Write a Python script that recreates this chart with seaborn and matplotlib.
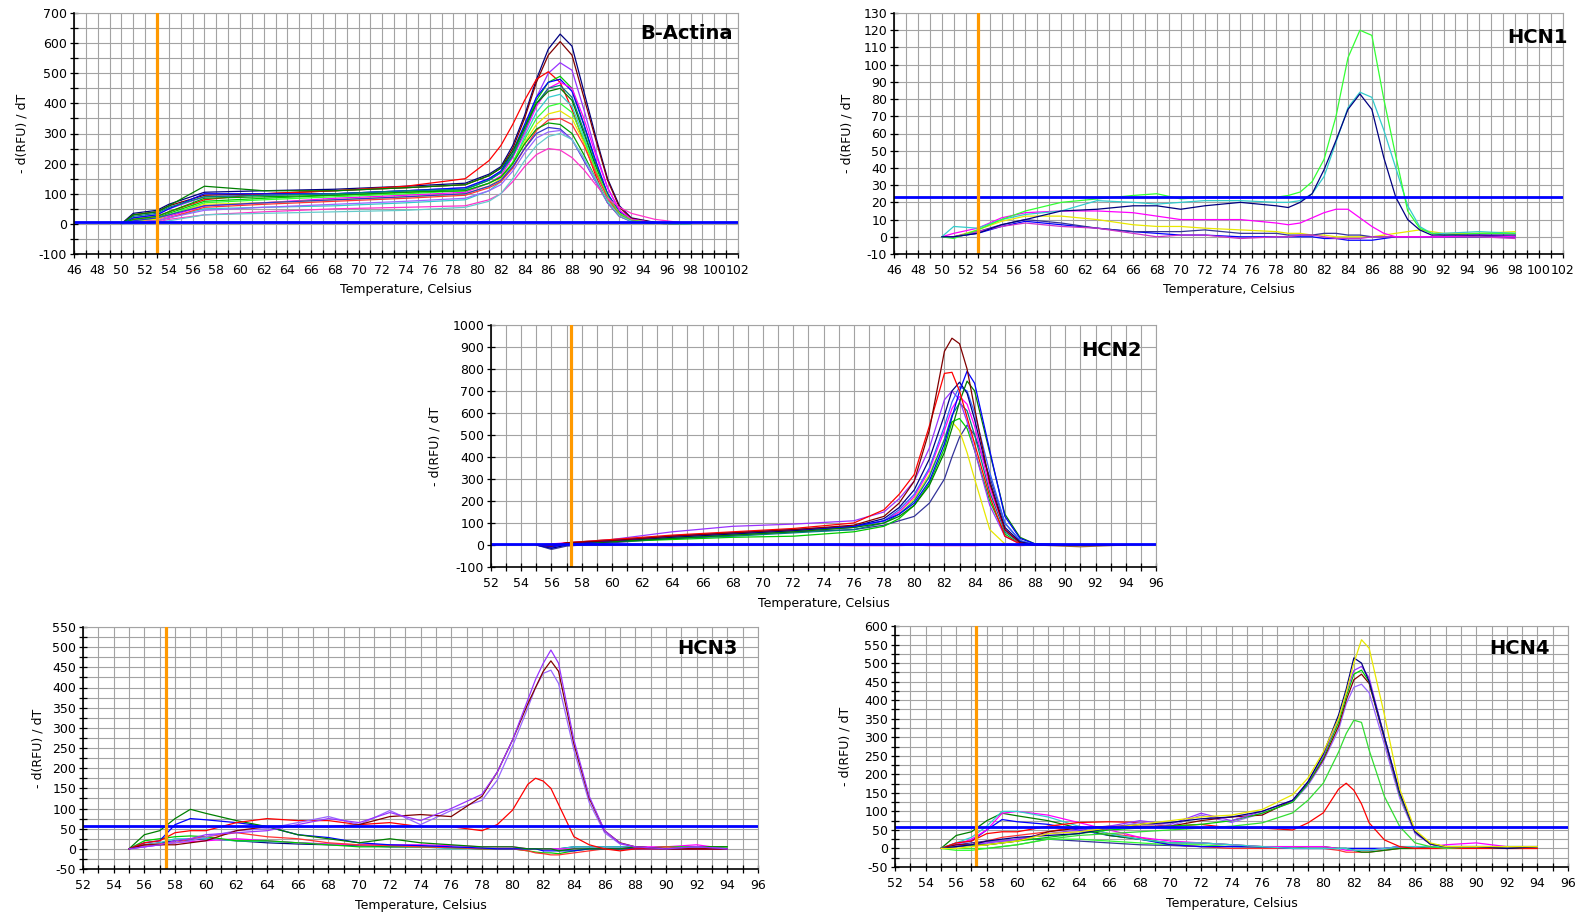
import numpy as np
import pandas as pd
import matplotlib
matplotlib.use("Agg")
import matplotlib.pyplot as plt
import seaborn as sns
from matplotlib.ticker import MultipleLocator

# ------------------------------------------------------------------ data
# ---- B-Actina
T_ACT = [50, 51, 53, 54, 57, 62, 68, 74, 79, 81, 82, 83, 84, 85, 86, 87, 88, 89, 90, 91, 92, 93, 95, 98]
ACT_navy = [0, 35, 45, 65, 105, 110, 115, 125, 135, 165, 190, 260, 360, 480, 580, 630, 590, 440, 290, 150, 60, 20, 5, 0]
ACT_darkred = [0, 30, 40, 60, 95, 100, 110, 120, 130, 160, 185, 250, 350, 470, 560, 605, 560, 420, 280, 145, 55, 18, 4, 0]
ACT_purple = [0, 20, 30, 50, 90, 95, 100, 110, 120, 150, 175, 230, 320, 420, 500, 535, 510, 380, 240, 120, 45, 15, 3, 0]
ACT_red = [0, 15, 25, 40, 80, 100, 110, 125, 150, 210, 260, 330, 410, 480, 505, 470, 380, 270, 160, 70, 25, 10, 2, 0]
ACT_green = [0, 10, 20, 35, 75, 85, 95, 105, 115, 145, 170, 230, 320, 410, 470, 490, 450, 330, 200, 100, 40, 12, 3, 0]
ACT_blue = [0, 20, 30, 50, 100, 100, 100, 110, 120, 150, 175, 240, 330, 420, 470, 480, 440, 330, 210, 100, 40, 12, 3, 0]
ACT_magenta = [0, 5, 15, 25, 60, 70, 85, 95, 105, 135, 160, 220, 300, 390, 450, 470, 450, 350, 230, 120, 45, 15, 3, 0]
ACT_teal = [0, 25, 35, 55, 90, 95, 100, 110, 115, 145, 170, 225, 310, 400, 450, 460, 420, 310, 190, 95, 35, 10, 2, 0]
ACT_darkgreen = [0, 30, 40, 60, 125, 110, 110, 120, 130, 160, 185, 240, 320, 400, 440, 450, 410, 300, 190, 90, 35, 10, 2, 0]
ACT_cyan = [0, 5, 10, 20, 50, 55, 60, 70, 80, 110, 140, 200, 290, 370, 420, 430, 390, 290, 180, 90, 35, 10, 2, 0]
ACT_yellow = [0, 10, 15, 30, 65, 70, 80, 90, 100, 125, 150, 200, 270, 330, 365, 375, 350, 270, 180, 90, 35, 12, 3, 0]
ACT_lime = [0, 10, 20, 30, 70, 80, 90, 100, 110, 135, 155, 205, 280, 350, 390, 400, 370, 280, 180, 90, 35, 12, 3, 0]
ACT_red2 = [0, 5, 10, 20, 55, 65, 75, 85, 95, 120, 140, 185, 250, 310, 345, 350, 330, 260, 170, 85, 30, 10, 2, 0]
ACT_blue2 = [0, 10, 20, 30, 60, 70, 80, 90, 100, 125, 145, 190, 250, 300, 320, 315, 280, 210, 140, 70, 25, 8, 2, 0]
ACT_violet = [0, 5, 10, 20, 45, 55, 65, 75, 85, 110, 130, 175, 235, 285, 305, 310, 280, 215, 140, 70, 25, 8, 2, 0]
ACT_pink = [0, 0, 5, 15, 30, 40, 50, 55, 60, 80, 100, 140, 190, 230, 250, 245, 220, 180, 130, 85, 55, 35, 15, 0]
ACT_green3 = [0, 15, 25, 40, 85, 90, 95, 105, 110, 135, 155, 200, 265, 315, 335, 330, 300, 230, 150, 75, 28, 9, 2, 0]
ACT_cyan2 = [0, 0, 5, 10, 30, 35, 40, 45, 55, 75, 100, 150, 210, 260, 290, 300, 280, 220, 150, 75, 28, 9, 2, 0]

# ---- HCN1
T_HCN1 = [50, 51, 53, 55, 57, 60, 63, 66, 68, 70, 72, 75, 78, 79, 80, 81, 82, 83, 84, 85, 86, 87, 88, 89, 90, 91, 92, 95, 98]
H1_green = [0, -1, 4, 10, 15, 20, 22, 24, 25, 22, 23, 23, 23, 24, 26, 32, 45, 70, 104, 120, 117, 80, 47, 15, 5, 2, 1, 2, 2]
H1_cyan = [0, 6, 5, 10, 13, 15, 21, 20, 19, 20, 21, 21, 20, 20, 21, 25, 35, 55, 75, 84, 81, 62, 40, 18, 6, 2, 2, 3, 2]
H1_navy = [0, 0, 2, 7, 10, 15, 16, 18, 18, 16, 18, 20, 18, 17, 20, 25, 39, 56, 74, 83, 74, 46, 23, 10, 4, 1, 1, 1, 1]
H1_magenta = [0, 2, 5, 11, 14, 15, 15, 14, 12, 10, 10, 10, 8, 7, 8, 11, 14, 16, 16, 11, 6, 2, 0, 0, 0, 0, 0, 1, 0]
H1_yellow = [0, 0, 4, 9, 12, 12, 10, 7, 6, 6, 5, 4, 3, 2, 2, 1, 1, 0, 0, 0, 0, 1, 2, 3, 4, 3, 2, 2, 3]
H1_blue = [0, 0, 2, 6, 9, 7, 5, 3, 2, 1, 1, 0, 0, 0, 0, 0, -1, -1, -2, -2, -2, -1, 0, 0, 0, 0, 0, 0, 0]
H1_slate = [0, 0, 3, 7, 10, 8, 5, 3, 3, 3, 4, 2, 2, 1, 1, 1, 2, 2, 1, 1, 0, 0, 0, 0, 0, 0, 0, 0, 0]
H1_orchid = [0, 0, 3, 6, 8, 6, 5, 2, 0, 1, 1, -1, 0, 0, 1, 1, 0, -1, -1, -1, 0, 0, 0, 0, 0, 0, 0, 0, -1]

# ---- HCN2
T_HCN2 = [55, 56, 57, 60, 64, 68, 72, 76, 78, 79, 80, 81, 82, 82.5, 83, 83.5, 84, 85, 86, 87, 88, 91, 94]
H2_darkred = [0, -5, 10, 20, 40, 55, 70, 90, 130, 190, 290, 520, 880, 940, 915, 800, 620, 280, 70, 10, 0, 0, 0]
H2_red = [0, 0, 10, 25, 45, 60, 75, 100, 160, 230, 320, 540, 780, 785, 700, 580, 460, 220, 40, 5, 0, 0, 0]
H2_blue = [0, -10, 5, 20, 40, 55, 70, 85, 110, 140, 190, 290, 460, 580, 700, 790, 735, 430, 130, 30, 5, 0, 0]
H2_darkgreen = [0, -5, 5, 15, 30, 45, 60, 80, 100, 130, 180, 270, 420, 530, 650, 745, 700, 420, 140, 35, 5, 0, 0]
H2_navy = [0, -15, 0, 15, 35, 50, 65, 85, 120, 170, 250, 390, 590, 700, 740, 690, 570, 290, 80, 15, 0, 0, 0]
H2_purple = [0, -10, 10, 25, 60, 85, 95, 110, 150, 210, 290, 440, 660, 700, 660, 560, 430, 180, 40, 5, 0, 0, 0]
H2_magenta = [0, 5, 10, 20, 40, 55, 65, 80, 110, 150, 220, 340, 520, 620, 675, 640, 540, 260, 70, 10, 0, 0, 0]
H2_teal = [0, -5, 5, 15, 30, 40, 55, 70, 100, 140, 200, 310, 480, 590, 645, 610, 500, 240, 60, 10, 0, 0, 0]
H2_green = [0, -5, 5, 15, 25, 35, 40, 60, 85, 120, 180, 280, 440, 560, 575, 530, 430, 200, 50, 5, 0, 0, 0]
H2_yellow = [0, -5, 10, 25, 40, 55, 65, 80, 110, 150, 210, 320, 480, 560, 520, 420, 300, 70, 5, 0, 0, 0, 0]
H2_slate = [0, -20, -5, 10, 30, 45, 60, 70, 90, 110, 130, 190, 300, 400, 490, 545, 500, 310, 100, 20, 0, 0, 0]
H2_royal = [0, -15, 0, 15, 35, 50, 65, 80, 110, 160, 230, 350, 540, 650, 720, 700, 600, 330, 100, 20, 0, 0, 0]
H2_pink = [0, 0, 5, 0, -3, 0, 0, -3, -3, -3, 0, -3, -3, -3, -3, -3, -3, 0, 0, -3, 0, 0, 0]
H2_brown = [0, 0, 0, 0, 0, 0, 0, 0, 0, 0, 0, 0, 0, 0, 0, 0, 0, 0, 0, 0, 0, -8, 0]

# ---- HCN3
T_HCN3 = [55, 56, 57, 58, 59, 60, 62, 64, 66, 68, 70, 72, 74, 76, 78, 79, 80, 81, 81.5, 82, 82.5, 83, 84, 85, 86, 87, 88, 90, 92, 94]
H3_purple = [0, 5, 10, 20, 25, 35, 40, 45, 60, 75, 65, 90, 70, 100, 135, 190, 270, 370, 420, 460, 493, 460, 270, 130, 45, 14, 5, 0, 5, 0]
H3_darkred = [0, 10, 10, 10, 15, 20, 45, 55, 55, 55, 60, 80, 85, 80, 130, 190, 270, 360, 400, 440, 466, 440, 260, 125, 45, 15, 5, 0, 0, 0]
H3_violet = [0, 5, 10, 15, 20, 30, 45, 50, 65, 80, 60, 95, 60, 95, 120, 170, 255, 350, 400, 435, 443, 410, 245, 115, 40, 12, 5, 0, 5, 0]
H3_red = [0, 15, 20, 40, 45, 45, 65, 75, 70, 70, 60, 65, 55, 55, 45, 60, 96, 160, 175, 168, 150, 110, 30, 10, 0, -5, 0, 0, 0, 0]
H3_darkgreen = [0, 35, 45, 75, 98, 88, 70, 55, 35, 25, 15, 25, 15, 10, 5, 5, 5, 0, 0, 0, 0, -5, 0, 0, 0, 0, 5, 0, 5, 5]
H3_blue = [0, 15, 20, 60, 75, 72, 65, 55, 35, 28, 15, 10, 8, 5, 2, 0, 0, 0, 0, -5, -5, -5, -5, 0, 0, 0, 0, 0, 0, 0]
H3_red2 = [0, 10, 12, 15, 25, 30, 40, 30, 25, 15, 10, 8, 5, 3, 0, 0, 0, -5, -10, -12, -15, -15, -10, -5, 0, 0, 0, 5, 0, 0]
H3_green = [0, 20, 25, 30, 32, 30, 20, 20, 15, 10, 5, 5, 5, 3, 0, 0, 0, -5, -8, -10, -10, -12, -5, 0, 0, 0, 0, 5, 5, 5]
H3_magenta = [0, 5, 10, 15, 18, 20, 25, 20, 15, 12, 10, 10, 10, 8, 5, 5, 5, 0, 0, 0, 0, 0, 0, 0, 0, 0, 5, 5, 10, 0]
H3_cyan = [0, 10, 15, 25, 25, 25, 20, 18, 15, 12, 10, 8, 5, 0, 0, 0, 0, 0, 0, 0, 0, 0, 5, 5, 5, 5, 5, 0, 5, 0]
H3_navy = [0, 10, 15, 20, 22, 25, 20, 15, 12, 10, 8, 5, 5, 3, 0, 0, 0, 0, 0, 0, 0, 0, 5, 5, 5, 5, 5, 0, 0, 0]

# ---- HCN4
T_HCN4 = [55, 56, 57, 58, 59, 60, 62, 64, 66, 68, 70, 72, 74, 76, 78, 79, 80, 81, 81.5, 82, 82.5, 83, 84, 85, 86, 87, 88, 90, 92, 94]
H4_yellow = [0, 0, 5, 10, 15, 20, 40, 45, 55, 65, 75, 85, 90, 105, 145, 190, 260, 350, 420, 500, 563, 540, 360, 160, 50, 15, 5, 5, 5, 5]
H4_navy = [0, 5, 10, 20, 25, 30, 35, 40, 55, 65, 70, 80, 85, 100, 130, 180, 255, 360, 430, 514, 500, 450, 300, 150, 45, 12, 5, 5, 0, 5]
H4_purple = [0, 5, 10, 15, 20, 25, 40, 50, 60, 75, 65, 95, 75, 100, 130, 180, 250, 350, 420, 480, 491, 460, 300, 150, 45, 12, 5, 5, 5, 5]
H4_green = [0, 5, 8, 10, 15, 20, 30, 40, 50, 55, 60, 65, 75, 95, 125, 175, 245, 340, 410, 470, 481, 450, 300, 145, 45, 12, 5, 5, 5, 5]
H4_darkred = [0, 10, 10, 10, 15, 20, 45, 55, 60, 60, 60, 75, 85, 90, 130, 175, 240, 330, 400, 455, 470, 445, 295, 145, 45, 12, 5, 5, 0, 5]
H4_violet = [0, 5, 10, 15, 20, 25, 40, 45, 55, 70, 60, 90, 70, 95, 125, 170, 235, 320, 390, 435, 443, 420, 280, 135, 40, 12, 5, 5, 5, 5]
H4_green2 = [0, 0, 0, 0, 5, 10, 25, 35, 40, 45, 50, 55, 60, 69, 96, 130, 176, 260, 310, 346, 340, 265, 140, 59, 15, 5, 0, 5, 0, 5]
H4_red = [0, 15, 20, 40, 45, 45, 60, 70, 72, 70, 60, 65, 55, 55, 50, 69, 96, 160, 176, 157, 120, 69, 23, 5, 0, 0, 0, 0, 0, 0]
H4_cyan = [0, 15, 30, 60, 100, 100, 85, 60, 40, 25, 15, 15, 10, 5, 0, 0, 0, 0, 0, -5, -5, -5, 0, 5, 5, 5, 5, 5, 5, 5]
H4_magenta = [0, 10, 25, 50, 95, 100, 90, 70, 50, 30, 20, 15, 10, 5, 5, 5, 5, 0, -5, -5, -5, -5, 0, 5, 5, 5, 10, 15, 5, 5]
H4_darkgreen = [0, 35, 45, 75, 95, 88, 75, 55, 35, 25, 15, 15, 10, 5, 5, 5, 5, 0, 0, -5, -10, -10, -5, 0, 0, 5, 5, 5, 5, 5]
H4_blue = [0, 15, 20, 50, 78, 72, 65, 50, 35, 25, 10, 5, 5, 5, 0, 0, 0, 0, 0, 0, 0, 0, 0, 5, 5, 5, 5, 5, 5, 5]
H4_red2 = [0, 5, 10, 20, 30, 35, 45, 60, 40, 30, 10, 5, 0, 0, 0, 0, 0, -5, -10, -10, -10, -10, -5, 0, 0, 0, 0, 5, 0, 0]
H4_lime = [0, -5, -5, 0, 5, 10, 25, 25, 20, 15, 10, 10, 5, 5, 5, 0, 0, 0, 0, -5, -5, -5, 0, 0, 0, 0, 5, 5, 5, 5]
H4_slate = [0, 10, 15, 20, 20, 25, 25, 20, 15, 10, 8, 5, 5, 3, 0, 0, 0, 0, 0, 0, 0, 0, 0, 5, 5, 5, 5, 5, 5, 5]

# threshold / reference lines
THRESH = {"B-Actina": 5, "HCN1": 23, "HCN2": 3, "HCN3": 57, "HCN4": 57}
REF_T = {"B-Actina": 53, "HCN1": 53, "HCN2": 57.3, "HCN3": 57.4, "HCN4": 57.3}

# ------------------------------------------------------------------ styles
COL = {
    "navy": "#000080", "darkred": "#800000", "purple": "#9933ff", "red": "#ff0000",
    "green": "#00cc00", "blue": "#0000ff", "magenta": "#ff00ff", "teal": "#008080",
    "darkgreen": "#008000", "cyan": "#33cccc", "yellow": "#e8e800", "lime": "#33ff33",
    "red2": "#ff3333", "blue2": "#3333cc", "violet": "#9966ff", "pink": "#ff33cc",
    "green3": "#00a000", "cyan2": "#66cccc", "slate": "#333399", "orchid": "#cc33cc",
    "royal": "#3366ff", "brown": "#996633", "green2": "#33dd33",
}

ACT_CURVES = [("navy", ACT_navy), ("darkred", ACT_darkred), ("purple", ACT_purple), ("red", ACT_red),
              ("green", ACT_green), ("blue", ACT_blue), ("magenta", ACT_magenta), ("teal", ACT_teal),
              ("darkgreen", ACT_darkgreen), ("cyan", ACT_cyan), ("yellow", ACT_yellow), ("lime", ACT_lime),
              ("red2", ACT_red2), ("blue2", ACT_blue2), ("violet", ACT_violet), ("pink", ACT_pink),
              ("green3", ACT_green3), ("cyan2", ACT_cyan2)]
H1_CURVES = [("yellow", H1_yellow), ("blue", H1_blue), ("slate", H1_slate), ("orchid", H1_orchid),
             ("magenta", H1_magenta), ("cyan", H1_cyan), ("lime", H1_green), ("navy", H1_navy)]
H2_CURVES = [("pink", H2_pink), ("brown", H2_brown), ("slate", H2_slate), ("yellow", H2_yellow),
             ("green", H2_green), ("teal", H2_teal), ("magenta", H2_magenta), ("purple", H2_purple),
             ("royal", H2_royal), ("navy", H2_navy), ("darkgreen", H2_darkgreen), ("blue", H2_blue),
             ("red", H2_red), ("darkred", H2_darkred)]
H3_CURVES = [("navy", H3_navy), ("cyan", H3_cyan), ("magenta", H3_magenta), ("green", H3_green),
             ("red2", H3_red2), ("blue", H3_blue), ("darkgreen", H3_darkgreen), ("red", H3_red),
             ("violet", H3_violet), ("darkred", H3_darkred), ("purple", H3_purple)]
H4_CURVES = [("slate", H4_slate), ("lime", H4_lime), ("red2", H4_red2), ("blue", H4_blue),
             ("darkgreen", H4_darkgreen), ("magenta", H4_magenta), ("cyan", H4_cyan), ("red", H4_red),
             ("green2", H4_green2), ("violet", H4_violet), ("darkred", H4_darkred), ("green", H4_green),
             ("purple", H4_purple), ("navy", H4_navy), ("yellow", H4_yellow)]

sns.set_theme(style="white")
plt.rcParams["font.family"] = ["DejaVu Sans"]
plt.rcParams["axes.unicode_minus"] = False

FIG_W, FIG_H = 1585, 915
fig = plt.figure(figsize=(FIG_W / 100, FIG_H / 100), dpi=100)
fig.patch.set_facecolor("white")

# pixel rectangles (x0, y0, x1, y1) of each plotting area
PANELS = [
    dict(name="B-Actina", rect=(74, 13, 738, 254), T=T_ACT, curves=ACT_CURVES, xlim=(46, 102),
         ylim=(-100, 700), ymaj=100, ymin=50, ylab_dx=52, toff=(-5, -11)),
    dict(name="HCN1", rect=(894, 13, 1563, 254), T=T_HCN1, curves=H1_CURVES, xlim=(46, 102),
         ylim=(-10, 130), ymaj=10, ymin=10, ylab_dx=47, toff=(5, -15)),
    dict(name="HCN2", rect=(491, 325, 1156, 567), T=T_HCN2, curves=H2_CURVES, xlim=(52, 96),
         ylim=(-100, 1000), ymaj=100, ymin=100, ylab_dx=56, toff=(-14, -16)),
    dict(name="HCN3", rect=(83, 627, 758, 869), T=T_HCN3, curves=H3_CURVES, xlim=(52, 96),
         ylim=(-50, 550), ymaj=50, ymin=25, ylab_dx=45, toff=(-20, -12)),
    dict(name="HCN4", rect=(895, 626, 1568, 867), T=T_HCN4, curves=H4_CURVES, xlim=(52, 96),
         ylim=(-50, 600), ymaj=50, ymin=25, ylab_dx=50, toff=(-18, -13)),
]

GRID_C = "#a3a3a3"
PX2PT = 0.72

for p in PANELS:
    x0, y0, x1, y1 = p["rect"]
    w, h = x1 - x0, y1 - y0
    ax = fig.add_axes([x0 / FIG_W, 1 - y1 / FIG_H, w / FIG_W, h / FIG_H])
    ax.set_facecolor("white")

    rows = []
    for i, (cname, vals) in enumerate(p["curves"]):
        for t, v in zip(p["T"], vals):
            rows.append((t, v, f"{i:02d}_{cname}"))
    df = pd.DataFrame(rows, columns=["T", "v", "curve"])
    pal = {f"{i:02d}_{c}": COL[c] for i, (c, _) in enumerate(p["curves"])}
    sns.lineplot(data=df, x="T", y="v", hue="curve", palette=pal, estimator=None,
                 sort=False, legend=False, linewidth=0.9, ax=ax, zorder=3)

    ax.axhline(THRESH[p["name"]], color="#0000ff", lw=2.0, zorder=5)
    ax.axvline(REF_T[p["name"]], color="#ff9900", lw=2.3, zorder=6)

    ax.set_xlim(*p["xlim"])
    ax.set_ylim(*p["ylim"])
    ax.xaxis.set_major_locator(MultipleLocator(2))
    ax.xaxis.set_minor_locator(MultipleLocator(1))
    ax.yaxis.set_major_locator(MultipleLocator(p["ymaj"]))
    ax.yaxis.set_minor_locator(MultipleLocator(p["ymin"]))
    ax.grid(True, which="both", color=GRID_C, lw=0.8)
    ax.set_axisbelow(True)
    ax.tick_params(which="both", direction="inout", length=6, width=0.9, color="black",
                   labelsize=9, labelcolor="black", bottom=True, left=True)
    ax.tick_params(axis="x", which="both", pad=4)
    ax.tick_params(axis="y", which="both", pad=2)
    for s in ("left", "bottom"):
        ax.spines[s].set_color("black")
        ax.spines[s].set_linewidth(1.2)
        ax.spines[s].set_zorder(7)
    for s in ("top", "right"):
        ax.spines[s].set_color(GRID_C)
        ax.spines[s].set_linewidth(0.8)

    ax.set_xlabel("Temperature, Celsius", fontsize=9, color="black")
    ax.xaxis.set_label_coords(0.5, -36 / h)
    ax.xaxis.label.set_verticalalignment("center")
    ax.set_ylabel("- d(RFU) / dT", fontsize=9, color="black")
    ax.yaxis.set_label_coords(-p["ylab_dx"] / w, 0.5)
    ax.yaxis.label.set_verticalalignment("center")

    dx, dy = p["toff"]
    ax.annotate(p["name"], xy=(1, 1), xycoords="axes fraction",
                xytext=(dx * PX2PT, dy * PX2PT), textcoords="offset points",
                ha="right", va="top", fontsize=14, fontweight="bold", color="black",
                zorder=8, annotation_clip=False)

fig.savefig("out.png", dpi=100, facecolor="white")
